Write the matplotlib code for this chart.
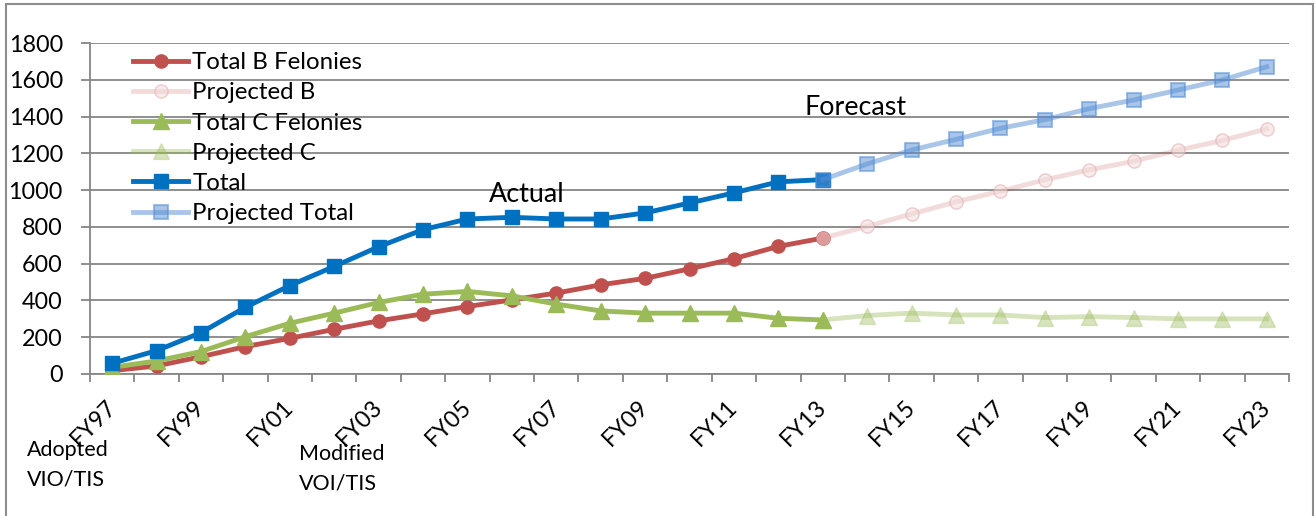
import matplotlib
matplotlib.use("Agg")
import matplotlib.pyplot as plt
from matplotlib.colors import to_rgba
from matplotlib.patches import Rectangle
from matplotlib.transforms import ScaledTranslation

plt.rcParams['font.family'] = ['Lato', 'DejaVu Sans']

years = [f"FY{y % 100:02d}" for y in range(1997, 2024)]

total_b = [18, 44, 94, 149, 194, 243, 289, 327, 367, 403, 440, 485, 520, 572, 627, 694, 739]
total_c = [36, 71, 122, 203, 276, 331, 389, 434, 449, 425, 380, 343, 331, 331, 331, 303, 294]
total = [58, 127, 225, 363, 481, 585, 692, 785, 843, 852, 843, 843, 876, 930, 985, 1045, 1057]

proj_b = [739, 803, 870, 936, 994, 1056, 1110, 1157, 1217, 1270, 1333]
proj_c = [294, 318, 331, 321, 321, 307, 312, 307, 300, 300, 300]
proj_total = [1057, 1142, 1218, 1276, 1336, 1383, 1443, 1490, 1544, 1599, 1671]

n_actual = len(total)
x_act = list(range(n_actual))
x_proj = list(range(n_actual - 1, n_actual - 1 + len(proj_total)))

W, H = 1315, 516
fig = plt.figure(figsize=(W / 100, H / 100), dpi=100)
ax = fig.add_axes([90 / W, 1 - 374 / H, (1289 - 90) / W, (374 - 43) / H])

grid_c = '#868686'
lw = 3.5
red, green, blue, lblue = '#C0504D', '#9BBB59', '#0070C0', '#558ED5'

ax.plot(x_act, total_b, color=red, lw=lw, marker='o', ms=9.5,
        mfc=red, mec=red, label='Total B Felonies', zorder=5)
ax.plot(x_proj, proj_b, color=to_rgba(red, 0.2), lw=lw, marker='o', ms=9.5,
        mfc=to_rgba('#F2DCDB', 0.55), mec=to_rgba('#E2AAAA', 0.55),
        label='Projected B', zorder=6)
ax.plot(x_act, total_c, color=green, lw=lw, marker='^', ms=11,
        mfc=green, mec=green, label='Total C Felonies', zorder=5)
ax.plot(x_proj, proj_c, color=to_rgba(green, 0.4), lw=lw, marker='^', ms=11,
        mfc=to_rgba(green, 0.4), mec=to_rgba(green, 0.3),
        label='Projected C', zorder=6)
ax.plot(x_act, total, color=blue, lw=lw, marker='s', ms=10,
        mfc=blue, mec=blue, label='Total', zorder=5)
ax.plot(x_proj, proj_total, color=to_rgba(lblue, 0.5), lw=lw, marker='s', ms=10,
        mfc=to_rgba(lblue, 0.5), mec=to_rgba(lblue, 0.55), mew=1.5,
        label='Projected Total', zorder=6)

ax.set_xlim(-0.5, len(years) - 0.5)
ax.set_ylim(0, 1800)
ax.set_yticks(range(0, 1801, 200))
ax.yaxis.grid(True, color=grid_c, lw=1.3)
ax.set_axisbelow(True)

# tick marks sit on category boundaries; every other category is labelled
ax.set_xticks([i - 0.5 for i in range(len(years) + 1)])
ax.set_xticklabels([])
ax.set_xticks(list(range(0, len(years), 2)), minor=True)
ax.set_xticklabels(years[::2], minor=True, rotation=45, ha='right', va='top',
                   rotation_mode='anchor', fontsize=16.8)
ax.tick_params(axis='x', which='minor', length=0, pad=16)
ax.tick_params(axis='x', which='major', length=5.8, color=grid_c, width=1.3)
ax.tick_params(axis='y', length=6.5, color=grid_c, width=1.3, labelsize=16.8, pad=13)
shift = ScaledTranslation(-7 / 100, 0, fig.dpi_scale_trans)
for lab in ax.get_xticklabels(minor=True):
    lab.set_transform(lab.get_transform() + shift)

for s in ['top', 'right']:
    ax.spines[s].set_visible(False)
for s in ['left', 'bottom']:
    ax.spines[s].set_color(grid_c)
    ax.spines[s].set_linewidth(1.3)

ax.legend(loc='upper left', bbox_to_anchor=(43 / 1199, 0.972), frameon=False,
          fontsize=17.3, handlelength=2.3, handletextpad=0.17,
          labelspacing=0.38, borderpad=0, borderaxespad=0)

ax.text(9.33, 935, 'Actual', fontsize=19.4, ha='center', va='baseline')
ax.text(16.75, 1408, 'Forecast', fontsize=19.4, ha='center', va='baseline')

for txt, x, y in [('Adopted', 27, 456.5), ('VIO/TIS', 27, 485.5),
                  ('Modified', 299, 460), ('VOI/TIS', 299, 490)]:
    fig.text(x / W, 1 - y / H, txt, fontsize=15.5, ha='left', va='baseline')

fig.patches.append(Rectangle((6 / W, -0.05), (1313 - 6) / W, 1 - 4 / H + 0.05,
                             transform=fig.transFigure, fill=False,
                             edgecolor='#8C8C8C', lw=1.5))

fig.savefig('out.png', dpi=100)
